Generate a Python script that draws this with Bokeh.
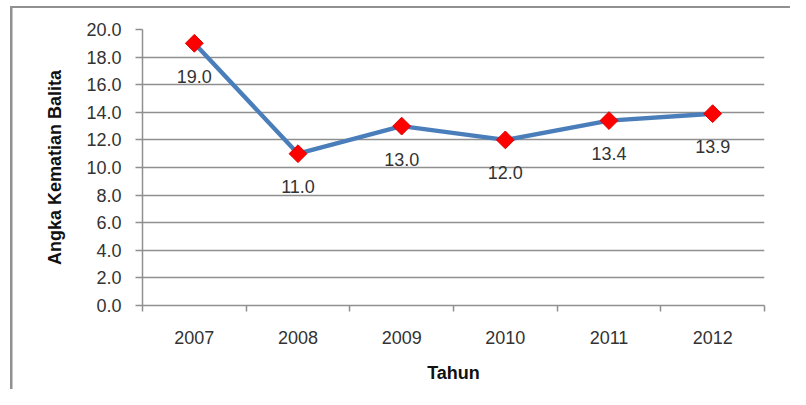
import math
from bokeh.plotting import figure
from bokeh.models import FixedTicker, ColumnDataSource, Range1d
from bokeh.core.properties import value
from bokeh.embed import file_html
from bokeh.resources import INLINE

# ---- data ----
years = ["2007", "2008", "2009", "2010", "2011", "2012"]
values = [19.0, 11.0, 13.0, 12.0, 13.4, 13.9]
y_ticks = [0, 2, 4, 6, 8, 10, 12, 14, 16, 18, 20]

x_pos = [i + 0.5 for i in range(len(years))]
labels = ["%.1f" % v for v in values]
src = ColumnDataSource(dict(x=x_pos, y=values, lbl=labels))

FONT = "Liberation Sans"
GRID = "#8f8f8f"
TXT = "#333333"
EDGE = "#909090"

# outer chart border (left and top edges) drawn as CSS background of the figure
bg = ("linear-gradient({c},{c}) 10px 6px / 2.5px 400px no-repeat, "
      "linear-gradient({c},{c}) 10px 6px / 800px 2px no-repeat, #ffffff").format(c=EDGE)

p = figure(width=790, height=389, output_backend="svg", toolbar_location=None,
           x_range=Range1d(0, len(years)), y_range=Range1d(0, 20),
           min_border_left=142, min_border_right=26, min_border_top=29,
           min_border_bottom=84, styles={"background": bg})
p.outline_line_color = None
p.background_fill_color = "white"
p.border_fill_color = None

p.yaxis.ticker = FixedTicker(ticks=y_ticks)
p.yaxis.major_label_overrides = {t: "%.1f" % t for t in y_ticks}
p.yaxis.major_tick_out = 7
p.yaxis.major_tick_in = 0
p.yaxis.minor_tick_line_color = None
p.yaxis.axis_line_color = GRID
p.yaxis.major_tick_line_color = GRID
p.yaxis.axis_line_width = 1.5
p.yaxis.major_tick_line_width = 1.5
p.yaxis.major_label_standoff = 14
p.yaxis.major_label_text_font = FONT
p.yaxis.major_label_text_font_size = "18px"
p.yaxis.major_label_text_color = TXT
p.yaxis.axis_label = "Angka Kematian Balita"
p.yaxis.axis_label_text_font = FONT
p.yaxis.axis_label_text_font_size = "18px"
p.yaxis.axis_label_text_font_style = "bold"
p.yaxis.axis_label_text_color = "#111111"
p.yaxis.axis_label_standoff = 18

p.xaxis.ticker = FixedTicker(ticks=x_pos, minor_ticks=list(range(len(years) + 1)))
p.xaxis.major_label_overrides = {x: y for x, y in zip(x_pos, years)}
p.xaxis.major_tick_out = 0
p.xaxis.major_tick_in = 0
p.xaxis.major_tick_line_color = None
p.xaxis.minor_tick_out = 6
p.xaxis.minor_tick_in = 0
p.xaxis.minor_tick_line_color = GRID
p.xaxis.minor_tick_line_width = 1.5
p.xaxis.axis_line_color = GRID
p.xaxis.axis_line_width = 1.5
p.xaxis.major_label_standoff = 19
p.xaxis.major_label_text_font = FONT
p.xaxis.major_label_text_font_size = "18px"
p.xaxis.major_label_text_color = TXT
p.xaxis.axis_label = "Tahun"
p.xaxis.axis_label_text_font = FONT
p.xaxis.axis_label_text_font_size = "18px"
p.xaxis.axis_label_text_font_style = "bold"
p.xaxis.axis_label_text_color = "#111111"
p.xaxis.axis_label_standoff = 16

p.xgrid.grid_line_color = None
p.ygrid.ticker = FixedTicker(ticks=y_ticks)
p.ygrid.grid_line_color = GRID
p.ygrid.grid_line_width = 1.5

p.line("x", "y", source=src, line_color="#4A7EBB", line_width=4.4)
p.scatter("x", "y", source=src, marker="square", angle=math.pi / 4, size=12.6,
          fill_color="#FF0000", line_color="#E00000", line_width=1)
p.text("x", "y", text="lbl", source=src, text_align="center", text_baseline="middle",
       y_offset=33, text_font=value(FONT), text_font_size="18px", text_color=TXT)

open("out.html", "w").write(file_html(p, INLINE))
